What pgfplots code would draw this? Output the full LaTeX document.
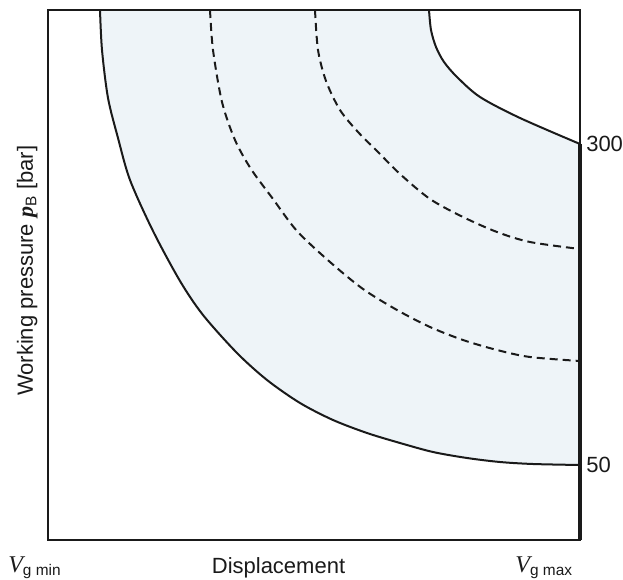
\documentclass[border=0pt]{standalone}
\usepackage{pgfplots}
\pgfplotsset{compat=1.18}
\usepgfplotslibrary{fillbetween}
\usepackage{fontspec}
\setmainfont{Liberation Sans}
\newfontfamily\seriffont{Liberation Serif}
\definecolor{fillc}{RGB}{238,244,248}
\definecolor{linec}{RGB}{26,26,26}
\newcommand{\lblfont}{\fontsize{16.5pt}{19pt}\selectfont}
\begin{document}
\begin{tikzpicture}
\begin{axis}[
  at={(0,0)}, anchor=origin,
  scale only axis, width=399pt, height=397.5pt,
  xmin=0, xmax=532, ymin=0, ymax=530,
  axis on top, clip=false,
  axis line style={line width=1pt, color=linec},
  xtick=\empty,
  ytick={75,396}, yticklabels={50,300},
  yticklabel pos=right,
  major tick length=0pt,
  yticklabel style={anchor=west, inner sep=0pt, xshift=4.5pt, font=\lblfont, text=linec},
  xlabel={Displacement},
  xlabel style={at={(axis description cs:0.4333,-0.0623)}, anchor=base, inner sep=0pt, font=\lblfont, text=linec},
  ylabel={Working pressure {\seriffont\itshape\bfseries p}\textsubscript{B} [bar]},
  ylabel style={at={(axis description cs:-0.0282,0.508)}, anchor=base, inner sep=0pt, font=\lblfont, text=linec},
  every axis plot/.append style={smooth, line width=1.5pt, color=linec, mark=none},
]
% outer boundary (low power)
\addplot[draw=none, name path=A] coordinates {
(52,530)(54,490)(60,442)(70,402)(82,360)(105,309)(132,259)(155,225)(189,187)(219,160)(252,137)(285,120)(319,107)(352,97)(385,88)(419,82)(452,78)(485,76)(532,75)};
% inner boundary (high power)
\addplot[draw=none, name path=D] coordinates {
(381,530)(383,510)(388,493)(396,478)(409,463)(432,443)(472,422)(532,396)};
\addplot[fill=fillc, draw=none] fill between[of=A and D];
% visible curves
\addplot[solid] coordinates {
(52,530)(54,490)(60,442)(70,402)(82,360)(105,309)(132,259)(155,225)(189,187)(219,160)(252,137)(285,120)(319,107)(352,97)(385,88)(419,82)(452,78)(485,76)(532,75)};
\addplot[dash pattern=on 6pt off 3.75pt] coordinates {
(162,530)(165,490)(174,438)(187,400)(203,371)(225,341)(249,309)(282,278)(315,251)(349,230)(382,213)(415,200)(449,190)(482,183)(532,179)};
\addplot[dash pattern=on 6pt off 3.75pt] coordinates {
(267,530)(270,490)(278,459)(292,430)(310,408)(330,388)(352,366)(382,341)(415,323)(449,308)(482,298)(532,291)};
\addplot[solid] coordinates {
(381,530)(383,510)(388,493)(396,478)(409,463)(432,443)(472,422)(532,396)};
% right boundary (max displacement)
\addplot[sharp plot, line width=2.4pt] coordinates {(532,396)(532,0)};
\node[anchor=base west, inner sep=0pt, font=\lblfont, text=linec] at (axis cs:-40,-32) {{\seriffont\itshape\fontsize{18pt}{20pt}\selectfont V}\textsubscript{g min}};
\node[anchor=base east, inner sep=0pt, font=\lblfont, text=linec] at (axis cs:525,-32) {{\seriffont\itshape\fontsize{18pt}{20pt}\selectfont V}\textsubscript{g max}};
\end{axis}
\pgfresetboundingbox
\path[use as bounding box] (-36pt,-29.25pt) rectangle (431.25pt,405pt);
\end{tikzpicture}
\end{document}
